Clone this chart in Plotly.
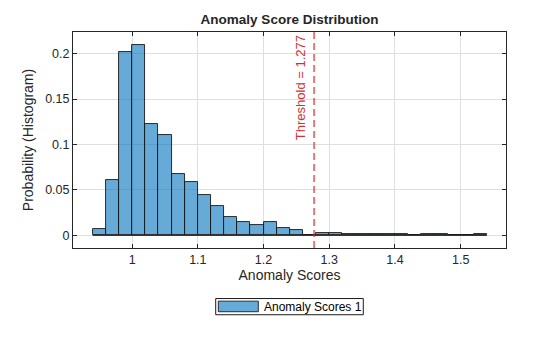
import numpy as np
import plotly.graph_objects as go

# Histogram bins (normalised as probability)
bin_start = 0.94
bin_width = 0.02
probabilities = [
    0.0069, 0.0607, 0.2022, 0.2099, 0.1221, 0.1100, 0.0673, 0.0585,
    0.0446, 0.0322, 0.0201, 0.0150, 0.0113, 0.0150, 0.0080, 0.0059,
    0.0000, 0.0027, 0.0027, 0.0013, 0.0013, 0.0013, 0.0013, 0.0013,
    0.0000, 0.0013, 0.0013, 0.0000, 0.0000, 0.0013,
]
threshold = 1.277
series_name = "Anomaly Scores 1"

x_ticks = [1, 1.1, 1.2, 1.3, 1.4, 1.5]
x_tick_labels = ["1", "1.1", "1.2", "1.3", "1.4", "1.5"]
y_ticks = [0, 0.05, 0.1, 0.15, 0.2]
y_tick_labels = ["0", "0.05", "0.1", "0.15", "0.2"]

n_bins = len(probabilities)
edges = np.round(bin_start + bin_width * np.arange(n_bins + 1), 4)
centers = (edges[:-1] + edges[1:]) / 2

axis_col = "#262626"
grid_col = "#dfdfdf"
bar_fill = "rgba(0,114,189,0.6)"
red = "rgba(204,51,51,0.65)"
font_family = "Liberation Sans, Arial, sans-serif"

fig = go.Figure()

fig.add_trace(go.Bar(
    x=centers,
    y=probabilities,
    width=bin_width,
    marker=dict(color=bar_fill, line=dict(color="#1a1a1a", width=0.9)),
    name=series_name,
    showlegend=False,
))

# baseline outline for empty bins
fig.add_trace(go.Scatter(
    x=[edges[0], edges[-1]],
    y=[0, 0],
    mode="lines",
    line=dict(color="#1a1a1a", width=0.9),
    showlegend=False,
    hoverinfo="skip",
))

# threshold line
fig.add_shape(
    type="line", xref="x", yref="paper",
    x0=threshold, x1=threshold, y0=0, y1=1,
    line=dict(color=red, width=2, dash="7px,4px"),
)
fig.add_annotation(
    x=threshold, xref="x", y=1, yref="paper",
    text=f"Threshold = {threshold}",
    textangle=-90, showarrow=False,
    xanchor="right", yanchor="top", xshift=-4, yshift=-1,
    font=dict(family=font_family, size=13, color="rgb(204,51,51)"),
)

# legend box
lx0, lx1 = 0.3296, 0.6704
ly0, ly1 = -0.309, -0.234
fig.add_shape(type="rect", xref="paper", yref="paper",
              x0=lx0, x1=lx1, y0=ly0, y1=ly1,
              line=dict(color="#1a1a1a", width=1), fillcolor="white")
fig.add_shape(type="rect", xref="paper", yref="paper",
              x0=0.3356, x1=0.4280, y0=-0.295, y1=-0.246,
              line=dict(color="#1a1a1a", width=0.9), fillcolor=bar_fill)
fig.add_annotation(
    x=0.4372, y=(ly0 + ly1) / 2, xref="paper", yref="paper",
    text=series_name, showarrow=False, xanchor="left", yanchor="middle",
    font=dict(family=font_family, size=12, color="black"),
)

common_axis = dict(
    showline=True, linecolor=axis_col, linewidth=1, mirror="allticks",
    ticks="inside", ticklen=4, tickcolor=axis_col, tickwidth=1,
    showgrid=True, gridcolor=grid_col, gridwidth=1,
    zeroline=False,
    tickfont=dict(family=font_family, size=12.5, color=axis_col),
)

fig.update_layout(
    width=560, height=337,
    margin=dict(l=73, r=54, t=32, b=89),
    paper_bgcolor="white", plot_bgcolor="white",
    bargap=0,
    title=dict(
        text="<b>Anomaly Score Distribution</b>",
        x=0.5, xref="paper", xanchor="center",
        y=1 - 19 / 337, yanchor="middle",
        font=dict(family=font_family, size=13.5, color=axis_col),
    ),
    xaxis=dict(
        range=[0.910, 1.569],
        tickvals=x_ticks, ticktext=x_tick_labels,
        title=dict(text="Anomaly Scores", standoff=4,
                   font=dict(family=font_family, size=14, color=axis_col)),
        **common_axis,
    ),
    yaxis=dict(
        range=[-0.0138, 0.2237],
        tickvals=y_ticks, ticktext=y_tick_labels,
        title=dict(text="Probability (Histogram)", standoff=8,
                   font=dict(family=font_family, size=14, color=axis_col)),
        **common_axis,
    ),
)

fig.write_html("out.html")
